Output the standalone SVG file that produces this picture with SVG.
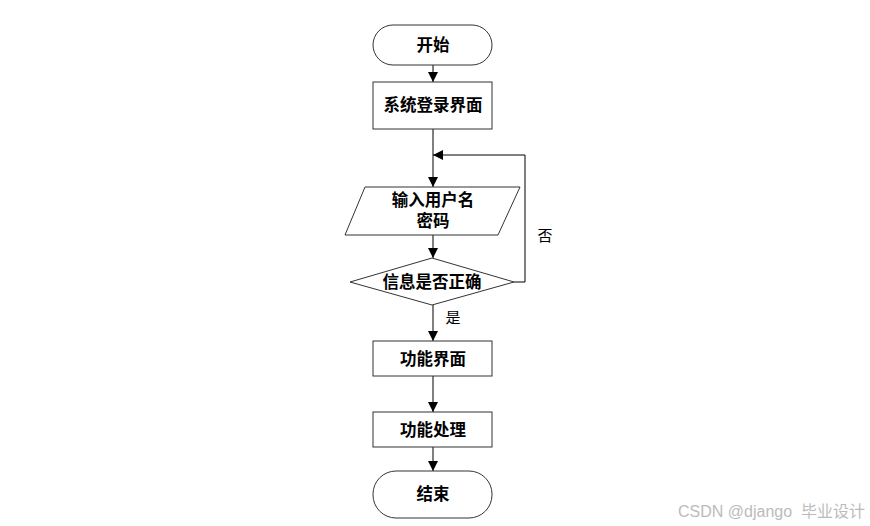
<svg xmlns="http://www.w3.org/2000/svg" width="870" height="526" viewBox="0 0 870 526">
<style>
.s{fill:#fff;stroke:#333;stroke-width:1}
.t{font-family:"Liberation Sans","Noto Sans CJK SC",sans-serif;font-size:16.5px;font-weight:bold;fill:#000;text-anchor:middle}
.l{font-family:"Liberation Sans","Noto Sans CJK SC",sans-serif;font-size:15px;fill:#000;text-anchor:middle}
.c{fill:none;stroke:#000;stroke-width:1}
</style>
<defs>
<marker id="a" markerWidth="10" markerHeight="10" refX="10" refY="5" orient="auto" markerUnits="userSpaceOnUse">
<path d="M0,0 L10,5 L0,10 Z" fill="#000"/>
</marker>
</defs>
<rect width="870" height="526" fill="#fff"/>
<g id="connectors">
<line class="c" x1="433" y1="65" x2="433" y2="82" marker-end="url(#a)"/>
<line class="c" x1="433" y1="129" x2="433" y2="187" marker-end="url(#a)"/>
<line class="c" x1="433" y1="235" x2="433" y2="258" marker-end="url(#a)"/>
<polyline class="c" points="514,282 525,282 525,155 433,155" marker-end="url(#a)"/>
<line class="c" x1="433" y1="305" x2="433" y2="341" marker-end="url(#a)"/>
<line class="c" x1="433" y1="376" x2="433" y2="412" marker-end="url(#a)"/>
<line class="c" x1="433" y1="447" x2="433" y2="471" marker-end="url(#a)"/>
<text class="l" x="545" y="241">否</text>
<text class="l" x="453" y="323">是</text>
</g>
<g id="start">
<rect class="s" x="373" y="25" width="119" height="40" rx="20"/>
<text class="t" x="433" y="51">开始</text>
</g>
<g id="login">
<rect class="s" x="373" y="82" width="119" height="47"/>
<text class="t" x="433" y="111">系统登录界面</text>
</g>
<g id="input">
<polygon class="s" points="365,187 520,187 498,235 345,235"/>
<text class="t" x="433" y="206">输入用户名</text>
<text class="t" x="433" y="227">密码</text>
</g>
<g id="check">
<polygon class="s" points="432,258 514,282 432,305 350,282"/>
<text class="t" x="432" y="288">信息是否正确</text>
</g>
<g id="func">
<rect class="s" x="373" y="341" width="119" height="35"/>
<text class="t" x="433" y="365">功能界面</text>
</g>
<g id="proc">
<rect class="s" x="373" y="412" width="119" height="35"/>
<text class="t" x="433" y="436">功能处理</text>
</g>
<g id="end">
<rect class="s" x="373" y="471" width="119" height="47" rx="23"/>
<text class="t" x="433" y="500">结束</text>
</g>
<text x="678" y="517" xml:space="preserve" font-family="Liberation Sans,'Noto Sans CJK SC',sans-serif" font-size="16" fill="#bbb">CSDN @django  毕业设计</text>
</svg>
